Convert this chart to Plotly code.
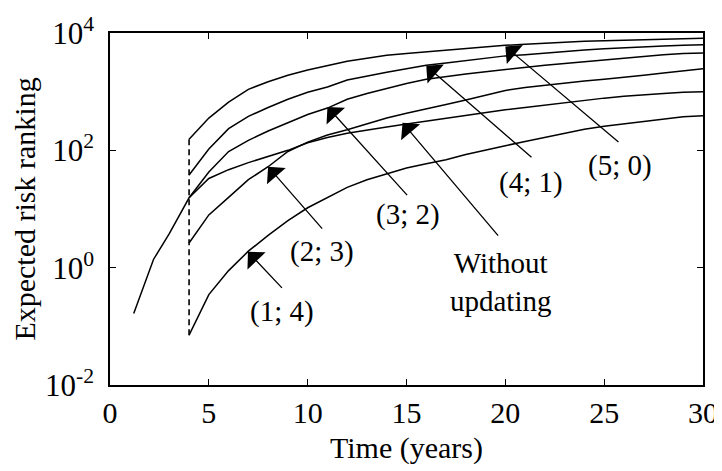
import plotly.graph_objects as go

# time axis (years)
years = list(range(4, 31))
years_wu = [1.2, 2.2, 3] + list(range(4, 31))

# expected risk ranking
r_5_0 = [155, 355, 661, 1096, 1479, 1905, 2344, 2818, 3311, 3715, 4169, 4467, 4786, 5129,
         5495, 5888, 6166, 6457, 6761, 6918, 7244, 7413, 7586, 7762, 7943, 8035, 8128]
r_4_1 = [38, 105, 234, 380, 537, 741, 977, 1202, 1585, 1862, 2138, 2455, 2818, 3090,
         3388, 3715, 4074, 4266, 4571, 4898, 5129, 5370, 5623, 5888, 6026, 6166, 6310]
r_3_2 = [15.5, 42.7, 95.5, 148, 214, 295, 407, 525, 741, 933, 1148, 1380, 1622, 1820,
         1995, 2188, 2399, 2570, 2818, 3020, 3236, 3548, 3802, 4074, 4266, 4467, 4571]
r_2_3 = [2.63, 7.94, 15.8, 31.6, 52.5, 95.5, 138, 182, 224, 282, 355, 427, 501, 603,
         724, 871, 1047, 1175, 1288, 1380, 1514, 1622, 1738, 1905, 2089, 2291, 2455]
r_1_4 = [0.0708, 0.347, 0.891, 1.91, 3.55, 6.31, 10.5, 15.5, 23.4, 31.6, 39.8, 50.1, 58.9, 69.2,
         85.1, 102, 120, 141, 166, 195, 229, 257, 282, 309, 347, 372, 389]
r_without = [0.166, 1.38, 3.80, 15.5, 33.1, 46.8, 61.7, 77.6, 100, 135, 166, 195, 224, 251, 282,
             316, 347, 389, 437, 490, 537, 589, 661, 724, 776, 832, 891, 933, 977, 1000]

ytick_vals = [1e-2, 1e0, 1e2, 1e4]
ytick_text = ['10<sup>-2</sup>', '10<sup>0</sup>', '10<sup>2</sup>', '10<sup>4</sup>']

FONT = 'Liberation Serif'
fig = go.Figure()

for ys in [r_5_0, r_4_1, r_3_2, r_2_3, r_1_4]:
    fig.add_trace(go.Scatter(x=years, y=ys, mode='lines',
                             line=dict(color='black', width=1.5)))
fig.add_trace(go.Scatter(x=years_wu, y=r_without, mode='lines',
                         line=dict(color='black', width=1.5)))
# updating instant
fig.add_trace(go.Scatter(x=[years[0], years[0]], y=[r_1_4[0], r_5_0[0]], mode='lines',
                         line=dict(color='black', width=1.6, dash='6px,4px')))

# (label, tip x, tip log y, tail x, tail log y, label x, label log y)
labels = [
    ('(1; 4)', 6.98, 0.27, 8.77, -0.37, 8.7, -0.75),
    ('(2; 3)', 8.0, 1.72, 10.8, 0.64, 10.7, 0.27),
    ('(3; 2)', 11.0, 2.74, 15.1, 1.21, 15.1, 0.90),
    ('Without<br>updating', 14.8, 2.47, 19.7, 0.52, 19.8, -0.25),
    ('(4; 1)', 16.0, 3.44, 21.4, 1.86, 21.3, 1.46),
    ('(5; 0)', 20.0, 3.77, 25.8, 2.12, 25.8, 1.75),
]
for txt, tx, ty, ax, ay, lx, ly in labels:
    fig.add_annotation(x=tx, y=ty, ax=ax, ay=ay, xref='x', yref='y', axref='x', ayref='y',
                       text='', showarrow=True, arrowhead=1, arrowsize=3.2,
                       arrowwidth=1.3, arrowcolor='black', standoff=0, startstandoff=0)
    fig.add_annotation(x=lx, y=ly, xref='x', yref='y', text=txt, showarrow=False,
                       font=dict(family=FONT, size=29, color='black'))

# page body has an 8px margin, so the figure is a bit smaller than the window
fig.update_layout(
    width=714, height=463,
    margin=dict(l=102, r=19, t=25, b=86),
    plot_bgcolor='white', paper_bgcolor='white',
    showlegend=False,
    font=dict(family=FONT, size=30, color='black'),
    xaxis=dict(
        range=[0, 30], tickvals=[0, 5, 10, 15, 20, 25, 30],
        ticks='inside', ticklen=6, tickwidth=1.3, tickcolor='black',
        showline=True, linecolor='black', linewidth=1.5, mirror='ticks',
        showgrid=False, zeroline=False, automargin=False,
        tickfont=dict(size=30),
        title=dict(text='Time (years)', font=dict(size=30), standoff=9),
    ),
    yaxis=dict(
        type='log', range=[-2, 4], tickvals=ytick_vals, ticktext=ytick_text,
        ticks='inside', ticklen=6, tickwidth=1.3, tickcolor='black',
        showline=True, linecolor='black', linewidth=1.5, mirror='ticks',
        showgrid=False, zeroline=False, automargin=False,
        tickfont=dict(size=31), ticklabelstandoff=8,
        title=dict(text='Expected risk ranking', font=dict(size=30), standoff=1),
    ),
)

fig.write_html("out.html")
